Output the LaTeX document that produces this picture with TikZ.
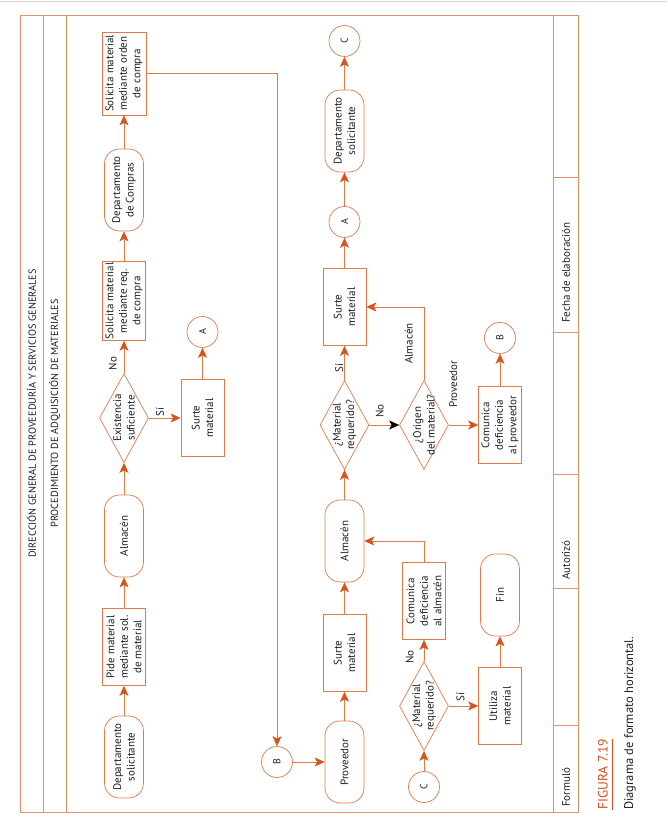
\documentclass[tikz,border=0pt]{standalone}
\usepackage{fontspec}
\setmainfont{PT Sans}
\usepackage{tikz}
\usetikzlibrary{positioning, calc, shapes.geometric, arrows.meta}
\definecolor{lineOrange}{RGB}{226, 122, 72}
\definecolor{tipOrange}{RGB}{214, 84, 28}
\definecolor{frameOrange}{RGB}{228, 146, 108}
\definecolor{figOrange}{RGB}{212, 82, 30}
\definecolor{inkGray}{RGB}{30, 30, 30}

\begin{document}
\begin{tikzpicture}[
    rotate=90, transform shape, x=1pt, y=1pt,
    every node/.style={text=inkGray},
    txt/.style={font=\fontsize{11}{13.5}\selectfont, align=center},
    proc/.style={txt, rectangle, draw=lineOrange, line width=0.7pt,
                 minimum width=77pt, minimum height=43pt, inner sep=1pt},
    term/.style={txt, rectangle, rounded corners=15pt, draw=lineOrange,
                 line width=0.7pt, minimum width=82pt, minimum height=39pt,
                 inner sep=1pt},
    decision/.style={txt, diamond, draw=lineOrange, line width=0.7pt,
                     aspect=1.8, minimum width=89pt, minimum height=49pt,
                     inner sep=-3pt},
    link/.style={circle, draw=lineOrange, line width=0.7pt, minimum size=31pt,
                 inner sep=0pt, font=\fontsize{10}{12}\selectfont},
    arrow/.style={draw=lineOrange, line width=0.7pt,
                  -{Stealth[length=10pt, width=9pt, inset=2.5pt, color=tipOrange]}},
    lbl/.style={font=\fontsize{11}{13}\selectfont, inner sep=1pt},
    foot/.style={font=\fontsize{11}{13}\selectfont, inner sep=0pt, anchor=west},
    frame/.style={draw=frameOrange, line width=0.8pt},
  ]
    \useasboundingbox (0,0) rectangle (822,667);
    \draw[gray!35, line width=0.8pt] (820.5,0) -- (820.5,667);

    % Frame, header and footer
    \draw[frame] (10,89) rectangle (807,647);
    \draw[frame] (10,624) -- (807,624);
    \draw[frame] (10,601) -- (807,601);
    \draw[frame] (10,114) -- (807,114);
    \foreach \x in {97,234,348,490,645}
      \draw[frame] (\x,89) -- (\x,114);
    \node[font=\fontsize{10.3}{12}\selectfont] (HD1) at (408.5,635.5)
      {DIRECCIÓN GENERAL DE PROVEEDURÍA Y SERVICIOS GENERALES};
    \node[font=\fontsize{10.3}{12}\selectfont] (HD2) at (408.5,612.5)
      {PROCEDIMIENTO DE ADQUISICIÓN DE MATERIALES};
    \node[foot] (FT1) at (15,101) {Formuló};
    \node[foot] (FT2) at (242,101) {Autorizó};
    \node[foot] (FT3) at (499,101) {Fecha de elaboración};

    % Row 1: departamento solicitante / almacen / compras
    \node[term] (D1) at (65,543) {Departamento\\solicitante};
    \node[proc] (P1) at (175,543) {Pide material\\mediante sol.\\de material};
    \node[term] (AL1) at (286,543) {Almacén};
    \node[decision] (EX) at (404,543) {Existencia\\suficiente};
    \node[proc] (SRC) at (521,543) {Solicita material\\mediante req.\\de compra};
    \node[term] (DC) at (632,543) {Departamento\\de Compras};
    \node[proc, minimum width=83pt, minimum height=44pt] (SOC) at (748.5,543)
      {Solicita material\\mediante orden\\de compra};
    \node[proc] (SU1) at (404,464.5) {Surte\\material};
    \node[link] (A1) at (490,464.5) {A};
    \node[link] (B1) at (60,390) {B};

    % Row 2: proveedor / almacen
    \node[term] (PROV) at (60,322.5) {Proveedor};
    \node[proc] (SU2) at (169,322.5) {Surte\\material};
    \node[term] (AL2) at (281,322.5) {Almacén};
    \node[decision] (MR1) at (397,322.5) {¿Material\\requerido?};
    \node[proc] (SU3) at (515,322.5) {Surte\\material};
    \node[link] (A2) at (600,322.5) {A};
    \node[term] (DS2) at (691,322.5) {Departamento\\solicitante};
    \node[link] (C1) at (781,322.5) {C};

    % Row 3 and 4
    \node[link] (C2) at (35,243) {C};
    \node[decision] (MR2) at (116,243) {¿Material\\requerido?};
    \node[proc] (CA) at (221,243) {Comunica\\deficiencia\\al almacén};
    \node[decision] (OR) at (397,243) {¿Origen\\del material?};
    \node[proc] (UT) at (116,167) {Utiliza\\material};
    \node[term] (FIN) at (227,167) {Fin};
    \node[proc] (CP) at (397,167) {Comunica\\deficiencia\\al proveedor};
    \node[link] (B2) at (484,167) {B};

    % Connectors
    \draw[arrow] (D1) -- (P1);
    \draw[arrow] (P1) -- (AL1);
    \draw[arrow] (AL1) -- (EX);
    \draw[arrow] (EX) -- node[lbl, pos=0.3, above=6pt] {No} (SRC);
    \draw[arrow] (SRC) -- (DC);
    \draw[arrow] (DC) -- (SOC);
    \draw[arrow] (EX) -- node[lbl, pos=0.35, right] {Sí} (SU1);
    \draw[arrow] (SU1) -- (A1);
    \draw[arrow] (SOC.south) |- (B1.east);
    \draw[arrow] (B1) -- (PROV);
    \draw[arrow] (PROV) -- (SU2);
    \draw[arrow] (SU2) -- (AL2);
    \draw[arrow] (AL2) -- (MR1);
    \draw[arrow] (MR1) -- node[lbl, pos=0.35, above] {Sí} (SU3);
    \draw[arrow] (SU3) -- (A2);
    \draw[arrow] (A2) -- (DS2);
    \draw[arrow] (DS2) -- (C1);
    \draw[arrow, -{Stealth[length=10pt, width=9pt, inset=2.5pt, color=black]}]
      (MR1) -- node[lbl, pos=0.35, right=6pt] {No} (OR);
    \draw[arrow] (OR.east) -| node[lbl, pos=0.25, above=10pt] {Almacén} (SU3.south);
    \draw[arrow] (OR) -- node[lbl, pos=0.15, right=16pt] {Proveedor} (CP);
    \draw[arrow] (CP) -- (B2);
    \draw[arrow] (C2) -- (MR2);
    \draw[arrow] (MR2) -- node[lbl, pos=0.2, above=9pt] {No} (CA);
    \draw[arrow] (CA.east) -| (AL2.south);
    \draw[arrow] (MR2) -- node[lbl, pos=0.4, right=3pt] {Sí} (UT);
    \draw[arrow] (UT) -- (FIN);

    % Caption
    \node[font=\fontsize{13.5}{15}\selectfont, text=figOrange, anchor=west,
          inner xsep=0pt, inner ysep=4pt] (FIG) at (12,64) {FIGURA 7.19};
    \draw[figOrange, line width=0.8pt] (FIG.south west) -- (FIG.south east);
    \node[font=\fontsize{12.5}{14}\selectfont, anchor=west, inner sep=0pt]
      (CAP) at (12,37) {Diagrama de formato horizontal.};
  \end{tikzpicture}
\end{document}
